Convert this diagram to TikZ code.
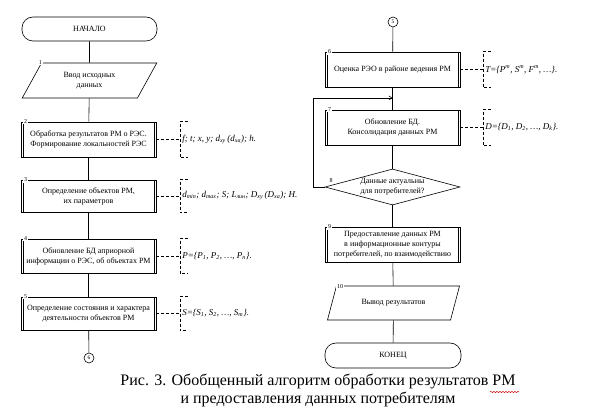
\documentclass[tikz,border=0pt]{standalone}
\usepackage{fontspec}
\setmainfont{Liberation Serif}
\usetikzlibrary{shapes.geometric,calc,arrows.meta,decorations.pathmorphing}
\begin{document}
\begin{tikzpicture}[x=1pt,y=-1pt,line width=0.6pt,
  txt/.style={font=\fontsize{8}{10}\selectfont,align=center,inner sep=1pt},
  term/.style={draw,rounded corners=11pt,minimum width=135pt,minimum height=24pt,txt},
  io/.style={draw,trapezium,trapezium left angle=60,trapezium right angle=120,
    trapezium stretches=true,minimum width=135pt,minimum height=35pt,txt},
  proc/.style={draw,minimum width=135pt,minimum height=35pt,txt,
    path picture={\draw[line width=0.6pt] ([xshift=2.2pt]path picture bounding box.north west) -- ([xshift=2.2pt]path picture bounding box.south west);
      \draw[line width=0.6pt] ([xshift=-2.2pt]path picture bounding box.north east) -- ([xshift=-2.2pt]path picture bounding box.south east);}},
  dec/.style={draw,diamond,aspect=3.75,minimum width=135pt,minimum height=36pt,txt,inner sep=0pt},
  conn/.style={draw,circle,minimum size=10pt,inner sep=0pt,font=\fontsize{5.5}{6}\selectfont},
  num/.style={fill=white,inner sep=0.8pt,font=\fontsize{6}{6}\selectfont},
  frm/.style={anchor=west,font=\fontsize{9}{10}\selectfont\itshape,inner sep=2pt},
  dsh/.style={dashed,dash pattern=on 3pt off 2pt,line width=0.5pt},
  line/.style={draw,line width=0.6pt}]
\useasboundingbox (0,0) rectangle (597,411);

% left column
\node[term] (start) at (89.5,29) {НАЧАЛО};
\node[io] (p1) at (89.5,80.5) {Ввод исходных\\данных};
\node[proc] (b2) at (88.5,139.5) {Обработка результатов РМ о РЭС.\\Формирование локальностей РЭС};
\node[proc,minimum height=32pt] (b3) at (88.5,196) {Определение объектов РМ,\\их параметров};
\node[proc,minimum height=34pt] (b4) at (88.5,256) {Обновление БД априорной\\информации о РЭС, об объектах РМ};
\node[proc,minimum height=33pt] (b5) at (88.5,313.5) {Определение состояния и характера\\деятельности объектов РМ};
\node[conn] (c6) at (89,358) {6};

% right column
\node[conn] (c5) at (393,22) {5};
\node[proc] (b6) at (392.5,69.5) {Оценка РЭО в районе ведения РМ};
\node[proc] (b7) at (392.5,127.5) {Обновление БД.\\Консолидация данных РМ};
\node[dec] (d8) at (392.5,187) {Данные актуальны\\для потребителей?};
\node[proc] (b9) at (392.5,244.5) {Предоставление данных РМ\\в информационные контуры\\потребителей, по взаимодействию};
\node[io,minimum width=133pt,minimum height=34pt] (p10) at (393.5,303) {Вывод результатов};
\node[term,minimum width=136pt,minimum height=25pt] (end) at (393,355.5) {КОНЕЦ};

% connectors
\path[line] (start) -- (p1);
\path[line] (p1) -- (b2);
\path[line] (b2) -- (b3);
\path[line] (b3) -- (b4);
\path[line] (b4) -- (b5);
\path[line] (b5) -- (c6);
\path[line] (c5) -- (b6);
\path[line] (b6) -- (b7);
\path[line] (b7) -- (d8);
\path[line] (d8) -- (b9);
\path[line] (b9) -- (p10);
\path[line] (p10) -- (end);
\coordinate (lp) at (313,98);
\coordinate (lin) at (392.5,98);
\path[line,-{Straight Barb[length=3pt,width=4pt]}] (d8.west) -| (lp) -- (lin);

% numbers
\node[num] (n1) at ([xshift=-1pt,yshift=0pt]p1.top left corner) {1};
\node[num] (n2) at ([xshift=5pt]b2.north west) {2};
\node[num] (n3) at ([xshift=5pt]b3.north west) {3};
\node[num] (n4) at ([xshift=5pt]b4.north west) {4};
\node[num] (n5) at ([xshift=5pt]b5.north west) {5};
\node[num] (n6) at ([xshift=5pt]b6.north west) {6};
\node[num] (n7) at ([xshift=5pt]b7.north west) {7};
\node[num] (n8) at (331,181) {8};
\node[num] (n9) at ([xshift=5pt]b9.north west) {9};
\node[num] (n10) at ([xshift=4pt,yshift=-1pt]p10.top left corner) {10};

% formulas
\node[frm] (f2) at (180,139.5) {f; t; x, y; d\textsubscript{xy}\,(d\textsubscript{xa}); h.};
\node[frm] (f3) at (180,196) {d\textsubscript{min}; d\textsubscript{max}; S; L\textsubscript{лин}; D\textsubscript{xy}\,(D\textsubscript{xa}); H.};
\node[frm] (f4) at (180,256) {P=\{P\textsubscript{1}, P\textsubscript{2}, …, P\textsubscript{n}\}.};
\node[frm] (f5) at (180,313.5) {S=\{S\textsubscript{1}, S\textsubscript{2}, …, S\textsubscript{m}\}.};
\node[frm] (f6) at (483,69.5) {T=\{P\textsuperscript{т}, S\textsuperscript{т}, F\textsuperscript{т}, …\}.};
\node[frm] (f7) at (483,127.5) {D=\{D\textsubscript{1}, D\textsubscript{2}, …, D\textsubscript{k}\}.};

\foreach \b/\f in {b2/f2,b3/f3,b4/f4,b5/f5,b6/f6,b7/f7}{
  \draw[dsh] (\b.east) -- (\f.west);
  \draw[dsh] ([xshift=8pt]\f.west |- \b.north) -- (\f.west |- \b.north) -- (\f.west |- \b.south) -- ([xshift=8pt]\f.west |- \b.south);
}

% caption
\node[font=\fontsize{16}{18}\selectfont,align=center] (cap) at (318,390) {Рис. 3. Обобщенный алгоритм обработки результатов РМ\\и предоставления данных потребителям};
\draw[red!80!black,line width=0.5pt,decorate,decoration={snake,amplitude=0.6pt,segment length=3pt}] (490,392) -- (519,392);
\end{tikzpicture}
\end{document}
